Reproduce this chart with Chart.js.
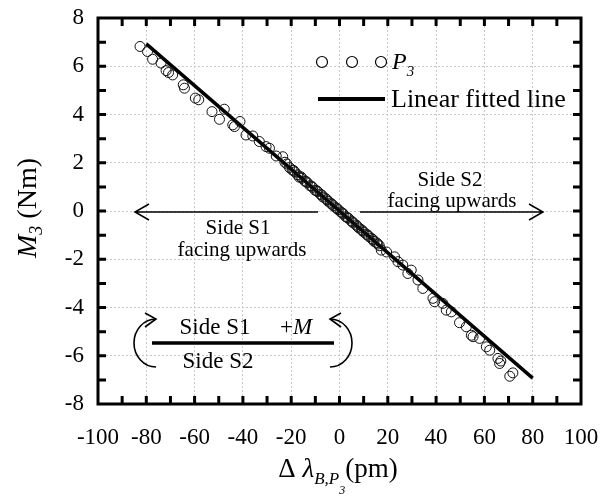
<!DOCTYPE html>
<html>
<head>
<style>
  body { margin: 0; background: #fff; }
</style>
</head>
<body>
<canvas id="chart" width="603" height="502"></canvas>

<script src="https://cdn.jsdelivr.net/npm/chart.js"></script>
<script type="text/javascript">
    // measured points, P3
    const p3X = [-82.6, -79.5, -77.4, -73.9, -71.8, -70.8, -69.1, -64.7, -64.2, -59.7, -58.3, -52.8,
        -49.7, -47.7, -44.2, -43.5, -41.2, -38.7, -35.9, -33.2, -30.4, -29.0, -26.2, -23.5,
        -21.8, -20.7, -19.6, -18.5, -17.4, -16.6, -15.5, -14.4, -13.3, -12.2, -11.1, -10.1,
        -9.0, -8.0, -6.9, -5.8, -4.7, -3.7, -2.6, -1.5, -0.5, 0.5, 1.6, 2.6, 3.7, 4.8, 5.8,
        6.9, 8.0, 9.0, 10.1, 11.1, 12.2, 13.3, 14.3, 15.4, 16.5,
        -22.6, -19.0, -16.0, -13.8, -11.6, -9.4, -7.3, -5.2, -3.1, -1.0, 1.1, 3.2, 5.3, 7.4, 9.5, 11.7, 13.9, 15.9,
        17.3, 19.5, 22.8, 24.2, 26.2, 28.3, 29.7, 32.5, 34.5, 38.7, 39.4, 42.8, 44.2, 46.3,
        49.7, 52.5, 54.6, 55.3, 58.0, 60.8, 62.2, 65.6, 66.3, 66.8, 70.5, 71.8];
    const p3Y = [6.82, 6.61, 6.29, 6.13, 5.82, 5.74, 5.64, 5.23, 5.09, 4.68, 4.61, 4.12,
        3.80, 4.22, 3.57, 3.50, 3.71, 3.15, 3.11, 2.88, 2.67, 2.60, 2.28, 2.25,
        1.95, 1.80, 1.70, 1.62, 1.50, 1.40, 1.36, 1.24, 1.17, 1.05, 0.98, 0.86,
        0.80, 0.70, 0.58, 0.52, 0.40, 0.33, 0.22, 0.14, 0.05, -0.04, -0.12, -0.24, -0.30, -0.41, -0.50,
        -0.58, -0.70, -0.77, -0.88, -0.96, -1.06, -1.14, -1.26, -1.32, -1.44,
        2.02, 1.68, 1.42, 1.22, 1.03, 0.84, 0.66, 0.47, 0.28, 0.10, -0.08, -0.27, -0.45, -0.64, -0.82, -1.00, -1.19, -1.37,
        -1.62, -1.70, -1.90, -2.10, -2.24, -2.59, -2.45, -2.86, -3.21, -3.62, -3.76, -3.83, -4.11, -4.18,
        -4.63, -4.80, -5.15, -5.21, -5.28, -5.63, -5.77, -6.11, -6.32, -6.22, -6.85, -6.71];

    // linear fit end points
    const fitX = [-80, 80];
    const fitY = [6.93, -6.93];

    const xTickValues = [-100, -80, -60, -40, -20, 0, 20, 40, 60, 80, 100];
    const yTickValues = [-8, -6, -4, -2, 0, 2, 4, 6, 8];
    const xMinorTicks = [-90, -80, -70, -60, -50, -40, -30, -20, -10, 0, 10, 20, 30, 40, 50, 60, 70, 80, 90];
    const yMinorTicks = [-7, -6, -5, -4, -3, -2, -1, 0, 1, 2, 3, 4, 5, 6, 7];

    const serif = '"Liberation Serif", "Times New Roman", serif';

    function setFont(ctx, size, italic) {
        ctx.font = (italic ? 'italic ' : '') + size + 'px ' + serif;
    }

    // parts: [text, size, italic, dy]
    function richText(ctx, parts, x, y, align) {
        let w = 0;
        parts.forEach(p => { setFont(ctx, p[1], p[2]); p.w = ctx.measureText(p[0]).width; w += p.w; });
        let cx = align === 'center' ? x - w / 2 : x;
        parts.forEach(p => {
            setFont(ctx, p[1], p[2]);
            ctx.fillText(p[0], cx, y + p[3]);
            cx += p.w;
        });
    }

    function arrow(ctx, x1, x2, y) {
        const d = x2 > x1 ? -1 : 1;
        ctx.beginPath();
        ctx.moveTo(x1, y);
        ctx.lineTo(x2, y);
        ctx.moveTo(x2 + d * 14, y - 8);
        ctx.lineTo(x2, y);
        ctx.lineTo(x2 + d * 14, y + 8);
        ctx.stroke();
    }

    const decorations = {
        id: 'decorations',
        afterDraw(chart) {
            const ctx = chart.ctx;
            const { left, right, top, bottom } = chart.chartArea;
            const xs = chart.scales.x, ys = chart.scales.y;
            ctx.save();
            ctx.strokeStyle = '#000';
            ctx.fillStyle = '#000';
            ctx.lineCap = 'butt';

            // inward ticks
            ctx.lineWidth = 3;
            ctx.beginPath();
            xMinorTicks.forEach(v => {
                const px = xs.getPixelForValue(v);
                ctx.moveTo(px, bottom); ctx.lineTo(px, bottom - 8);
                ctx.moveTo(px, top); ctx.lineTo(px, top + 8);
            });
            yMinorTicks.forEach(v => {
                const py = ys.getPixelForValue(v);
                ctx.moveTo(left, py); ctx.lineTo(left + 8, py);
                ctx.moveTo(right, py); ctx.lineTo(right - 8, py);
            });
            ctx.stroke();
            ctx.strokeRect(left, top, right - left, bottom - top);

            ctx.textBaseline = 'alphabetic';
            ctx.textAlign = 'left';

            // legend
            ctx.lineWidth = 1.2;
            [322, 352, 381].forEach(cx => {
                ctx.beginPath();
                ctx.arc(cx, 62, 5.5, 0, Math.PI * 2);
                ctx.stroke();
            });
            richText(ctx, [['P', 24, true, 0], ['3', 15, true, 7]], 392, 69, 'left');
            ctx.lineWidth = 4;
            ctx.beginPath();
            ctx.moveTo(318, 99); ctx.lineTo(385, 99);
            ctx.stroke();
            setFont(ctx, 26, false);
            ctx.fillText('Linear fitted line', 391, 107);

            // facing annotations
            ctx.lineWidth = 1.5;
            arrow(ctx, 360, 543, 212);
            arrow(ctx, 318, 135, 212);
            ctx.textAlign = 'center';
            setFont(ctx, 21, false);
            ctx.fillText('Side S2', 450, 186);
            ctx.fillText('facing upwards', 452, 207);
            ctx.fillText('Side S1', 238, 234);
            ctx.fillText('facing upwards', 242, 256);

            // moment sketch
            setFont(ctx, 23, false);
            ctx.fillText('Side S1', 215, 334);
            ctx.fillText('Side S2', 218, 368);
            ctx.textAlign = 'left';
            richText(ctx, [['+', 23, false, 0], ['M', 23, true, 0]], 280, 334, 'left');
            ctx.lineWidth = 3.5;
            ctx.beginPath();
            ctx.moveTo(152, 343); ctx.lineTo(334, 343);
            ctx.stroke();
            ctx.lineWidth = 1.6;
            ctx.beginPath();
            ctx.ellipse(330, 343, 22, 24, 0, -Math.PI / 2, Math.PI / 2, false);
            ctx.stroke();
            ctx.beginPath();
            ctx.moveTo(341, 313); ctx.lineTo(330, 319); ctx.lineTo(341, 327);
            ctx.stroke();
            ctx.beginPath();
            ctx.ellipse(156, 343, 22, 24, 0, -Math.PI / 2, Math.PI / 2, true);
            ctx.stroke();
            ctx.beginPath();
            ctx.moveTo(145, 313); ctx.lineTo(156, 319); ctx.lineTo(145, 327);
            ctx.stroke();

            // axis titles
            richText(ctx, [['\u0394 ', 27, false, 0], ['\u03bb', 27, true, 0], ['B,P', 17, true, 7],
                ['3', 12, true, 17], ['(pm)', 27, false, 0]], 338, 477, 'center');
            ctx.translate(36, 208);
            ctx.rotate(-Math.PI / 2);
            richText(ctx, [['M', 28, true, 0], ['3', 18, true, 6], [' (Nm)', 28, false, 0]], 0, 0, 'center');
            ctx.restore();
        }
    };

    const chart = new Chart(document.getElementById('chart'), {
        type: 'scatter',
        data: {
            datasets: [{
                label: 'P3',
                data: p3X.map((x, i) => ({ x: x, y: p3Y[i] })),
                pointRadius: 5,
                pointBorderWidth: 1,
                pointBorderColor: '#111',
                pointBackgroundColor: 'rgba(0,0,0,0)',
                showLine: false
            }, {
                label: 'Linear fitted line',
                data: fitX.map((x, i) => ({ x: x, y: fitY[i] })),
                showLine: true,
                borderColor: '#000',
                borderWidth: 3.5,
                pointRadius: 0
            }]
        },
        options: {
            responsive: false,
            animation: false,
            layout: { autoPadding: false, padding: { top: 18, right: 22, left: 0, bottom: 0 } },
            plugins: {
                legend: { display: false },
                tooltip: { enabled: false }
            },
            scales: {
                x: {
                    type: 'linear',
                    min: -100,
                    max: 100,
                    afterBuildTicks: (s) => { s.ticks = xTickValues.map(v => ({ value: v })); },
                    afterFit: (s) => { s.height = 98; s.paddingLeft = 0; s.paddingRight = 0; },
                    ticks: { color: '#000', padding: 20, font: { family: serif, size: 23 } },
                    grid: { color: '#c8c8c8', lineWidth: 1, drawTicks: false },
                    border: { display: false, dash: [2, 2] }
                },
                y: {
                    type: 'linear',
                    min: -8,
                    max: 8,
                    afterBuildTicks: (s) => { s.ticks = yTickValues.map(v => ({ value: v })); },
                    afterFit: (s) => { s.width = 98; s.paddingTop = 0; s.paddingBottom = 0; },
                    ticks: { color: '#000', padding: 14, font: { family: serif, size: 23 } },
                    grid: { color: '#c8c8c8', lineWidth: 1, drawTicks: false },
                    border: { display: false, dash: [2, 2] }
                }
            }
        },
        plugins: [decorations]
    });
</script>
</body>
</html>
